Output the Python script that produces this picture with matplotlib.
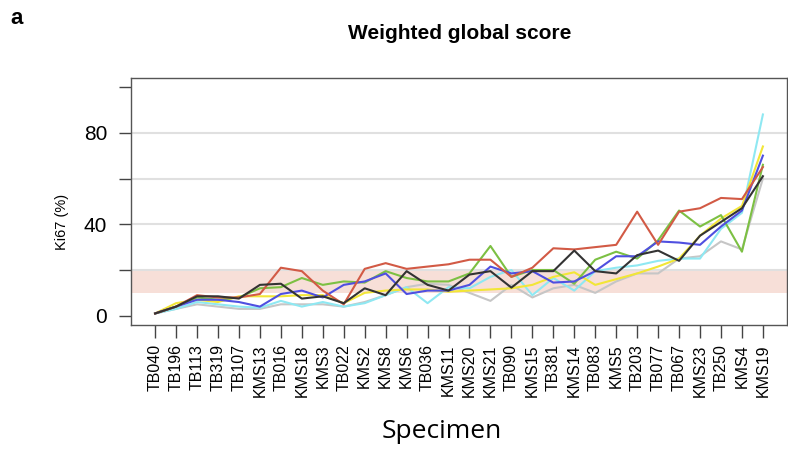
import matplotlib
matplotlib.use("Agg")
import matplotlib.pyplot as plt

plt.rcParams['font.family'] = ['Liberation Sans', 'DejaVu Sans']

specimens = ['TB040', 'TB196', 'TB113', 'TB319', 'TB107', 'KMS13', 'TB016', 'KMS18',
             'KMS3', 'TB022', 'KMS2', 'KMS8', 'KMS6', 'TB036', 'KMS11', 'KMS20',
             'KMS21', 'TB090', 'KMS15', 'TB381', 'KMS14', 'TB083', 'KMS5', 'TB203',
             'TB077', 'TB067', 'KMS23', 'TB250', 'KMS4', 'KMS19']

# Ki67 (%) per specimen, one list per reader
grey = [1, 3, 5, 4, 3, 3, 5, 5, 5, 4, 6, 9, 12.5, 14, 13.5, 10, 6.5, 13.5, 8, 12,
        13.5, 10, 15, 18.5, 18.5, 25, 26, 32.5, 29, 60]
cyan = [1, 3, 6, 5, 4, 3.5, 6.5, 4, 6, 4, 5.5, 9, 12.5, 5.5, 12.5, 12, 17, 20, 9, 16.5,
        11, 19.5, 21, 22, 24, 25, 25, 38, 45, 88]
yellow = [1, 5.5, 7, 6, 8.5, 8.5, 8.5, 9, 9, 5.5, 10, 11, 11.5, 11.5, 10.5, 11, 11.5, 12,
          13.5, 17, 19, 13.5, 16, 18.5, 21.5, 25, 35, 42.5, 48, 74]
green = [1, 4, 8, 7, 8, 12, 12.5, 16.5, 13.5, 15, 14.5, 19.5, 16.5, 15, 15, 18.5, 30.5,
         17, 20, 20, 14, 24.5, 28, 25, 33, 46, 39, 44, 28, 66]
blue = [1, 4, 7, 7, 6, 4, 9.5, 11, 8, 13.5, 15, 18.5, 9.5, 11, 11, 13.5, 21.5, 18.5,
        19.5, 14.5, 15, 19.5, 26, 26, 32.5, 32, 31, 39, 46, 70]
red = [1, 4, 9, 8, 8, 9.5, 21, 19.5, 11, 5, 20.5, 23, 20.5, 21.5, 22.5, 24.5, 24.5, 17,
       21, 29.5, 29, 30, 31, 45.5, 31, 45.5, 47, 51.5, 51, 65]
black = [1, 4, 8.5, 8.5, 7.5, 13.5, 14, 7.5, 8.5, 5.5, 12, 9, 19.5, 13.5, 11, 18, 19.5,
         12.3, 19.5, 19.5, 28.5, 19.5, 18.5, 26.5, 28.5, 24, 35, 41, 47, 61]

series = [(grey, '#c6c6c6'), (cyan, '#8fe8f2'), (yellow, '#f2e637'), (green, '#7cc043'),
          (blue, '#4f4fe0'), (red, '#d25a45'), (black, '#333333')]

x = list(range(1, len(specimens) + 1))

fig = plt.figure(figsize=(7.88, 4.5), dpi=100)
ax = fig.add_axes([0.166, 0.278, 0.833, 0.549])

# reference band 10-20 %
ax.axhspan(10, 20, color='#f7dfd8', zorder=0.5, lw=0)
for h in [20, 40, 60, 80]:
    ax.axhline(h, color='#e0e0e0', lw=1.5, zorder=1)

for vals, col in series:
    ax.plot(x, vals, color=col, lw=1.5, zorder=2)

ax.set_xlim(1 - 0.04 * 29, 30 + 0.04 * 29)
ax.set_ylim(-4, 104)
ax.set_xticks(x)
ax.set_xticklabels(specimens, rotation=90, fontsize=11.5)
ax.set_yticks([0, 20, 40, 60, 80, 100])
ax.set_yticklabels(['0', '', '40', '', '80', ''], fontsize=15)
ax.tick_params(axis='both', length=9, width=1, color='#444444', direction='out')
ax.tick_params(axis='x', pad=5)
ax.tick_params(axis='y', pad=8)
for s in ax.spines.values():
    s.set_color('#555555')
    s.set_linewidth(1)

fig.text(0.583, 0.925, 'Weighted global score', ha='center', va='center',
         fontsize=15, fontweight='bold')
fig.text(0.013, 0.96, 'a', ha='left', va='center', fontsize=16, fontweight='bold')
fig.text(0.079, 0.507, 'Ki67 (%)', rotation=90, ha='center', va='center', fontsize=10.5)
fig.text(0.56, 0.04, 'Specimen', ha='center', va='center', fontsize=19,
         family=['Open Sans', 'DejaVu Sans'])

fig.savefig('out.png', dpi=100)
